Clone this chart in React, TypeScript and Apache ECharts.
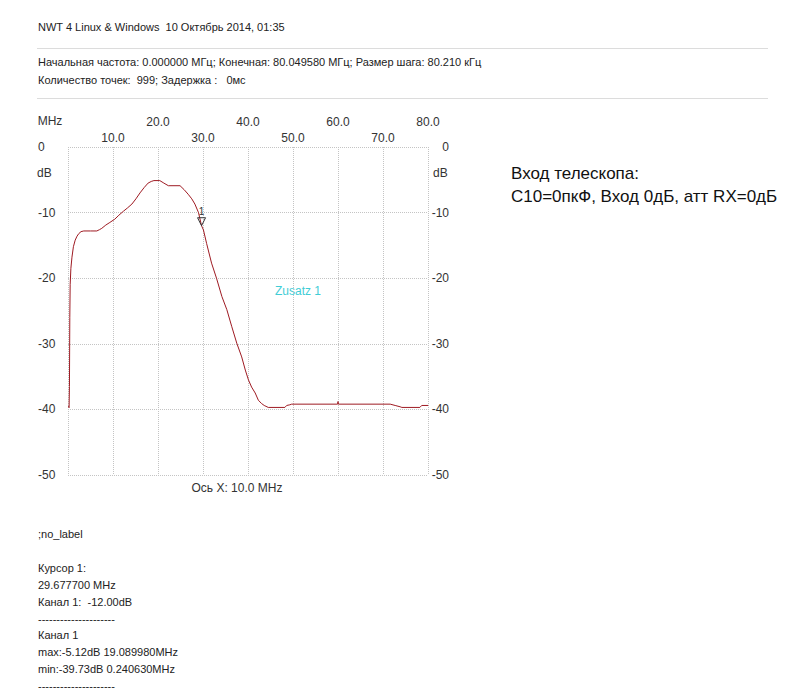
import React, { useEffect, useRef } from 'react';
import * as echarts from 'echarts';

// Sweep: frequency (MHz) and level (dB)
const freqMHz = [
  0.0, 0.16, 0.24, 0.32, 0.4, 0.48, 0.64, 0.88, 1.2, 1.6, 2.0, 2.4, 2.9, 3.5, 5.0, 6.4, 7.0, 7.5, 8.4, 9.3,
  10.4, 11.3, 12.3, 13.2, 14.2, 15.1, 16.0, 16.9, 17.8, 18.5, 19.09, 20.4, 21.3, 22.3, 24.9, 25.8, 26.7, 27.5,
  28.2, 29.0, 29.68, 30.1, 30.8, 31.9, 33.0, 34.2, 35.3, 36.4, 37.5, 38.6, 39.4, 40.1, 40.8, 41.6, 42.3, 43.0,
  43.6, 44.5, 48.2, 48.6, 49.3, 49.7, 59.9, 60.0, 60.1, 71.6, 72.7, 73.8, 74.2, 78.2, 78.6, 80.05,
];
const levelDb = [
  -39.5, -39.6, -39.73, -36.5, -26.0, -21.0, -18.5, -16.8, -15.2, -14.2, -13.6, -13.2, -12.9, -12.8, -12.8, -12.8, -12.6, -12.4, -11.9, -11.5,
  -11.0, -10.4, -9.8, -9.3, -8.7, -7.9, -7.0, -6.2, -5.5, -5.25, -5.12, -5.12, -5.5, -5.9, -5.9, -6.5, -7.2, -7.9,
  -8.7, -10.0, -12.0, -12.65, -14.7, -17.7, -20.0, -22.8, -24.8, -27.4, -29.9, -32.0, -34.0, -35.5, -36.6, -37.5, -38.6, -39.1,
  -39.4, -39.7, -39.7, -39.4, -39.3, -39.2, -39.2, -38.8, -39.2, -39.2, -39.4, -39.6, -39.7, -39.7, -39.4, -39.4,
];

const cursorFreq = 29.6777;
const cursorLevel = -12.0;
const cursorName = '1';

const xMin = 0;
const xMax = 80;
const xStep = 10;
const yMin = -50;
const yMax = 0;
const yStep = 10;

const xUnit = 'MHz';
const yUnit = 'dB';
const xAxisCaption = 'Ось X: 10.0 MHz';
const traceLabel = 'Zusatz 1';

const headerTitle = 'NWT 4 Linux & Windows  10 Октябрь 2014, 01:35';
const sweepLines = [
  'Начальная частота: 0.000000 МГц; Конечная: 80.049580 МГц; Размер шага: 80.210 кГц',
  'Количество точек:  999; Задержка :   0мс',
];
const noteLines = ['Вход телескопа:', 'C10=0пкФ, Вход 0дБ, атт RX=0дБ'];
const reportLines = [
  ';no_label',
  '',
  'Курсор 1:',
  '29.677700 MHz',
  'Канал 1:  -12.00dB',
  '---------------------',
  'Канал 1',
  'max:-5.12dB 19.089980MHz',
  'min:-39.73dB 0.240630MHz',
  '---------------------',
];

const FONT = 'Liberation Sans';
const TEXT_COLOR = '#222';
const GRID_COLOR = '#c4c4c4';

export default function App() {
  const ref = useRef<HTMLDivElement>(null);

  useEffect(() => {
    if (!ref.current) return;
    const chart = echarts.init(ref.current, null, { renderer: 'svg' });

    const data = freqMHz.map((f, i) => [f, levelDb[i]]);

    const txt = (x: number, y: number, text: string, extra: any = {}) => ({
      type: 'text',
      x,
      y,
      silent: true,
      style: {
        text,
        fill: TEXT_COLOR,
        font: `11px "${FONT}"`,
        textAlign: 'left',
        textVerticalAlign: 'middle',
        ...extra,
      },
    });

    const graphics: any[] = [];
    graphics.push(txt(38, 27, headerTitle));
    graphics.push({ type: 'line', silent: true, shape: { x1: 37, y1: 48.5, x2: 768, y2: 48.5 }, style: { stroke: '#dcdcdc', lineWidth: 1 } });
    sweepLines.forEach((l, i) => graphics.push(txt(38, 62 + i * 18, l)));
    graphics.push({ type: 'line', silent: true, shape: { x1: 37, y1: 98.5, x2: 768, y2: 98.5 }, style: { stroke: '#dcdcdc', lineWidth: 1 } });
    noteLines.forEach((l, i) => graphics.push(txt(511, 173 + i * 23, l, { font: `17px "${FONT}"`, fill: '#111' })));
    reportLines.forEach((l, i) => {
      if (l) graphics.push(txt(38, 534 + i * 16.9, l));
    });
    graphics.push(txt(50, 121, xUnit, { font: `12px "${FONT}"`, textAlign: 'center', fill: '#333' }));
    graphics.push(txt(37, 173, yUnit, { font: `12px "${FONT}"`, fill: '#333' }));
    graphics.push(txt(433, 173, yUnit, { font: `12px "${FONT}"`, fill: '#333' }));
    graphics.push(txt(237, 488, xAxisCaption, { font: `12px "${FONT}"`, textAlign: 'center', fill: '#333' }));
    graphics.push(txt(275, 291, traceLabel, { font: `12px "${FONT}"`, fill: '#3fcdd6' }));

    const tickFmt = (even: boolean) => (v: number) => {
      if (v <= 0) return '';
      const idx = Math.round(v / xStep);
      return (idx % 2 === 0) === even ? v.toFixed(1) : '';
    };

    const xBase = {
      type: 'value',
      position: 'top',
      min: xMin,
      max: xMax,
      interval: xStep,
      axisLine: { show: false },
      axisTick: { show: false },
    };
    const yBase = {
      type: 'value',
      min: yMin,
      max: yMax,
      interval: yStep,
      axisLine: { show: false },
      axisTick: { show: false },
    };
    const labelStyle = { color: '#333', fontFamily: FONT, fontSize: 12 };

    chart.setOption({
      animation: false,
      backgroundColor: '#ffffff',
      grid: { left: 68, top: 147, width: 360, height: 328, containLabel: false },
      xAxis: [
        {
          ...xBase,
          splitLine: { show: true, lineStyle: { type: 'dotted', color: GRID_COLOR, width: 1 } },
          axisLabel: { ...labelStyle, margin: 19, formatter: tickFmt(true), showMinLabel: true, showMaxLabel: true },
        },
        {
          ...xBase,
          splitLine: { show: false },
          axisLabel: { ...labelStyle, margin: 3, formatter: tickFmt(false) },
        },
      ],
      yAxis: [
        {
          ...yBase,
          position: 'left',
          splitLine: { show: true, lineStyle: { type: 'dotted', color: GRID_COLOR, width: 1 } },
          axisLabel: { ...labelStyle, margin: 30, align: 'left', verticalAlign: 'middle', formatter: (v: number) => String(v) },
        },
        {
          ...yBase,
          position: 'right',
          splitLine: { show: false },
          axisLabel: { ...labelStyle, margin: 21, align: 'right', verticalAlign: 'middle', formatter: (v: number) => String(v) },
        },
      ],
      series: [
        {
          type: 'line',
          xAxisIndex: 0,
          yAxisIndex: 0,
          data,
          showSymbol: false,
          lineStyle: { color: '#9e1a22', width: 1 },
          itemStyle: { color: '#9e1a22' },
          markPoint: {
            silent: true,
            data: [
              {
                coord: [cursorFreq, cursorLevel],
                symbol: 'triangle',
                symbolSize: [8, 8],
                symbolRotate: 180,
                symbolOffset: [0, -4],
                itemStyle: { color: 'rgba(255,255,255,0)', borderColor: '#333', borderWidth: 1 },
                label: { show: true, position: 'top', distance: 1, formatter: cursorName, color: '#333', fontFamily: FONT, fontSize: 10 },
              },
            ],
          },
        },
      ],
      graphic: graphics,
    });

    return () => chart.dispose();
  }, []);

  return <div ref={ref} style={{ position: 'fixed', left: 0, top: 0, width: 793, height: 700 }} />;
}
